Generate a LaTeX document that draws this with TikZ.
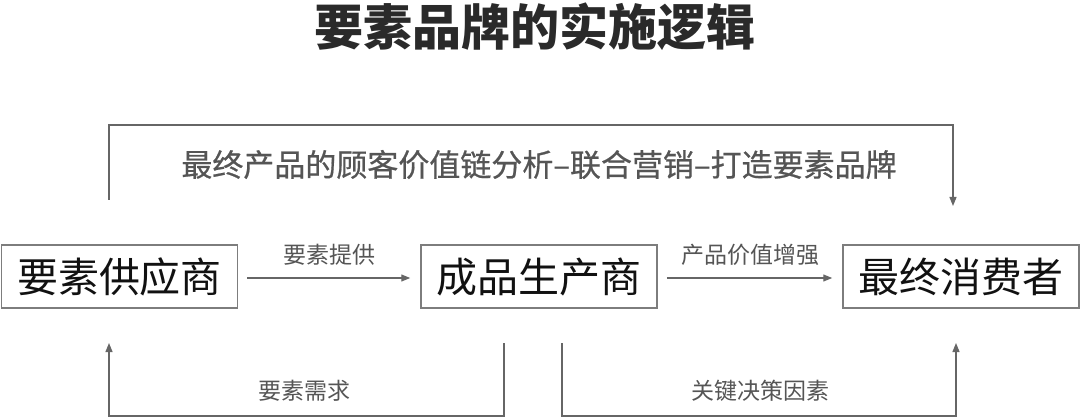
\documentclass[tikz,border=0pt]{standalone}
\usepackage{fontspec}
\setmainfont{Noto Sans CJK SC}
\newfontfamily\chainfont[FakeBold = 0.6]{Noto Sans CJK SC}
\usetikzlibrary{arrows.meta}

\begin{document}
\begin{tikzpicture}[x = 1pt, y = -1pt,
  box/.style = {draw = boxline, line width = 1.5pt, minimum width = 236pt, minimum height = 63pt, inner sep = 0pt, text = boxtext, font = \fontsize{41}{41}\selectfont},
  flow/.style = {draw = flowline, line width = 1.2pt, -{Triangle[length = 9pt, width = 7pt]}},
  tag/.style = {text = tagtext, inner sep = 0pt, font = \fontsize{23}{23}\selectfont}]
\definecolor{boxline}{HTML}{7D7D7D}
\definecolor{boxtext}{HTML}{111111}
\definecolor{flowline}{HTML}{666666}
\definecolor{tagtext}{HTML}{555555}
\definecolor{titletext}{HTML}{2A2A2A}
\useasboundingbox (0, 0) rectangle (1080, 417);
\node[text = titletext, font = \bfseries\fontsize{49}{49}\selectfont] (title) at (535, 27) {要素品牌的实施逻辑};
\node[box] (supplier) at (119.5, 276.5) {要素供应商};
\node[box] (maker) at (539, 276.5) {成品生产商};
\node[box] (consumer) at (961, 276.5) {最终消费者};
\draw[flow, shorten <= 9pt, shorten >= 10pt] ([yshift = -1.5pt]supplier.east) -- ([yshift = -1.5pt]maker.west);
\draw[flow, shorten <= 9pt, shorten >= 10pt] ([yshift = -1.5pt]maker.east) -- ([yshift = -1.5pt]consumer.west);
\node[tag] (supply) at (329, 255) {要素提供};
\node[tag] (upgrade) at (750, 255) {产品价值增强};
\coordinate (topstart) at (109, 200);
\coordinate (topend) at (953, 206);
\draw[flow] (topstart) -- ++(0, -75) -| (topend);
\node[tag, font = \chainfont\fontsize{31}{31}\selectfont] (chain) at (539, 164.5) {最终产品的顾客价值链分析–联合营销–打造要素品牌};
\coordinate (needstart) at (504, 343);
\coordinate (needend) at (109, 343);
\draw[flow] (needstart) -- ++(0, 73) -| (needend);
\node[tag] (need) at (304, 391) {要素需求};
\coordinate (keystart) at (562, 343);
\coordinate (keyend) at (956, 343);
\draw[flow] (keystart) -- ++(0, 73) -| (keyend);
\node[tag] (key) at (760.5, 391) {关键决策因素};
\end{tikzpicture}
\end{document}
